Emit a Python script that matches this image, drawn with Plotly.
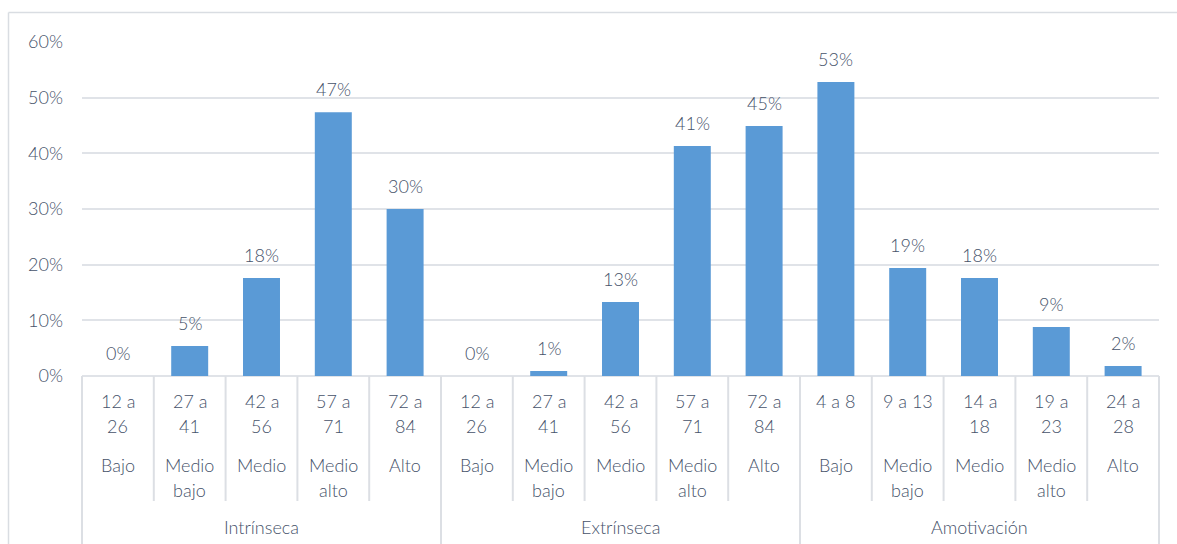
import plotly.graph_objects as go

# ---- data ----
groups = ["Intrínseca", "Extrínseca", "Amotivación"]
ranges = ["12 a\n26", "27 a\n41", "42 a\n56", "57 a\n71", "72 a\n84",
          "12 a\n26", "27 a\n41", "42 a\n56", "57 a\n71", "72 a\n84",
          "4 a 8", "9 a 13", "14 a\n18", "19 a\n23", "24 a\n28"]
levels = ["Bajo", "Medio\nbajo", "Medio", "Medio\nalto", "Alto"] * 3
values = [0.0, 5.4, 17.6, 47.4, 30.0,
          0.0, 0.9, 13.3, 41.3, 44.9,
          52.8, 19.4, 17.6, 8.8, 1.8]
y_ticks = [0, 10, 20, 30, 40, 50, 60]

# ---- geometry (pixels) ----
W, H = 1177, 544
L, R, T, B = 82, 18, 42, 168
PW, PH = W - L - R, H - T - B
y0px = T + PH  # pixel y of 0%


def px2x(px):
    return (px - L) / PW


def px2y(py):
    return (y0px - py) / PH


TXT = "#46526a"
FONT = "Lato"
FS = 18
GRID = "#e0e3e8"
SEP = "#dcdfe4"
n = len(values)
x = list(range(n))
tfont = dict(family=FONT, size=FS, color=TXT, weight=300)

fig = go.Figure(go.Bar(
    x=x, y=values, marker=dict(color="#5a9ad6", line=dict(width=0)),
    hoverinfo="skip"))

annotations = []
# data labels
for xi, v in zip(x, values):
    annotations.append(dict(x=xi, y=v, xref="x", yref="y", text=f"{round(v):d}%",
                            showarrow=False, yshift=23, yanchor="middle", font=tfont))

# category labels (range, level)
for xi, (rg, lv) in enumerate(zip(ranges, levels)):
    for k, line in enumerate(rg.split("\n")):
        annotations.append(dict(x=xi, y=px2y(401 + 24.5 * k), xref="x", yref="paper",
                                text=line, showarrow=False, yanchor="middle", font=tfont))
    for k, line in enumerate(lv.split("\n")):
        annotations.append(dict(x=xi, y=px2y(465 + 24.5 * k), xref="x", yref="paper",
                                text=line, showarrow=False, yanchor="middle", font=tfont))
# group labels
per = n // len(groups)
for gi, g in enumerate(groups):
    annotations.append(dict(x=gi * per + (per - 1) / 2, y=px2y(527), xref="x", yref="paper",
                            text=g, showarrow=False, yanchor="middle", font=tfont))

shapes = []
# separators
for b in range(n + 1):
    xp = b / n
    full = (b % per == 0)
    shapes.append(dict(type="line", xref="paper", yref="paper", x0=xp, x1=xp,
                       y0=0, y1=px2y(H + 5 if full else 501),
                       line=dict(color=SEP, width=2)))
# outer chart border (left & top)
shapes.append(dict(type="line", xref="paper", yref="paper", x0=px2x(8.5), x1=px2x(8.5),
                   y0=px2y(12.5), y1=px2y(H + 5), line=dict(color="#d9dde2", width=1.5)))
shapes.append(dict(type="line", xref="paper", yref="paper", x0=px2x(8.5), x1=px2x(W + 5),
                   y0=px2y(12.5), y1=px2y(12.5), line=dict(color="#d9dde2", width=1.5)))

fig.update_layout(
    width=W, height=H, autosize=False,
    margin=dict(l=L, r=R, t=T, b=B, pad=0),
    paper_bgcolor="white", plot_bgcolor="white",
    showlegend=False, bargap=0.485,
    xaxis=dict(range=[-0.5, n - 0.5], showticklabels=False, showgrid=False,
               zeroline=False, showline=False, ticks="", fixedrange=True),
    yaxis=dict(range=[0, 60], tickvals=y_ticks, ticktext=[f"{t}%" for t in y_ticks],
               showgrid=True, gridcolor=GRID, gridwidth=2, zeroline=True,
               zerolinecolor=GRID, zerolinewidth=2, showline=False, ticks="",
               ticklabelstandoff=18, tickfont=tfont),
    annotations=annotations, shapes=shapes,
)

fig.write_html("out.html")
